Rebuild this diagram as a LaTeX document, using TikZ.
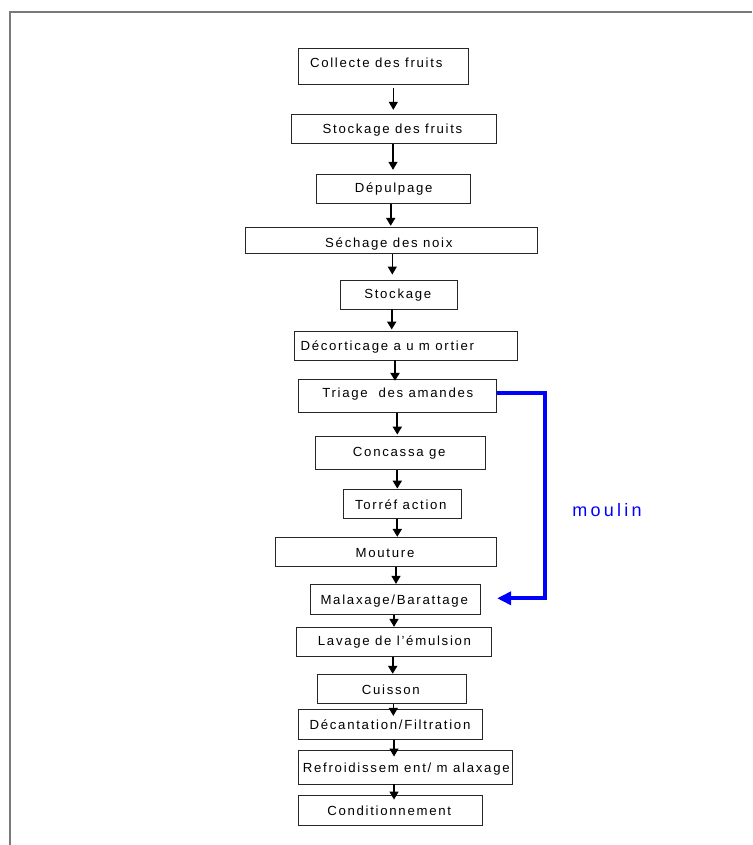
\documentclass[tikz,border=0pt]{standalone}
\usepackage{fontspec}
\setmainfont{Liberation Sans}
\newfontfamily\boxfont[LetterSpace=13]{Liberation Sans}
\newfontfamily\moulinfont[LetterSpace=18]{Liberation Sans}
\usetikzlibrary{arrows.meta}
\definecolor{framegray}{HTML}{7A7A7A}
\definecolor{pureblue}{HTML}{0000FF}
\begin{document}
\begin{tikzpicture}[x=1pt,y=-1pt,
  stepbox/.style={draw=black!85, line width=0.9pt, inner sep=0pt},
  lbl/.style={font=\boxfont\fontsize{13.2}{15}\selectfont, inner sep=0pt, anchor=base},
  thinarr/.style={line width=1.2pt, -{Triangle[width=9pt,length=8pt]}},
  thickarr/.style={line width=2.3pt, -{Triangle[width=9pt,length=8pt]}},
  bluearr/.style={draw=pureblue, line width=4pt, line join=miter, -{Triangle[width=13pt,length=14pt]}}
]
\useasboundingbox (0,0) rectangle (752,845);
\fill[white] (0,0) rectangle (752,845);
% frame (cut off at right and bottom)
\draw[framegray, line width=1.6pt] (9.8,845) -- (9.8,12) -- (752,12);

% boxes
\node[stepbox, minimum width=170pt,   minimum height=35.7pt] (b1)  at (383,66.2)  {};
\node[stepbox, minimum width=205pt,   minimum height=29pt]   (b2)  at (394.2,128.8) {};
\node[stepbox, minimum width=154.7pt, minimum height=29pt]   (b3)  at (393.3,188.8) {};
\node[stepbox, minimum width=292.3pt, minimum height=26pt]   (b4)  at (391.2,240.3) {};
\node[stepbox, minimum width=116.6pt, minimum height=29pt]   (b5)  at (399,294.5) {};
\node[stepbox, minimum width=223.3pt, minimum height=29pt]   (b6)  at (405.7,345.5) {};
\node[stepbox, minimum width=198.4pt, minimum height=33.4pt] (b7)  at (397.5,396) {};
\node[stepbox, minimum width=170pt,   minimum height=33.3pt] (b8)  at (400,452.7) {};
\node[stepbox, minimum width=118.4pt, minimum height=29.3pt] (b9)  at (402.5,503.7) {};
\node[stepbox, minimum width=221.7pt, minimum height=29.4pt] (b10) at (385.8,552) {};
\node[stepbox, minimum width=170.7pt, minimum height=29.7pt] (b11) at (395.3,599.2) {};
\node[stepbox, minimum width=195.7pt, minimum height=29.4pt] (b12) at (393.8,642) {};
\node[stepbox, minimum width=149.4pt, minimum height=29pt]   (b13) at (392,688.8) {};
\node[stepbox, minimum width=184pt,   minimum height=29.7pt] (b14) at (390.3,724.2) {};
\node[stepbox, minimum width=214.4pt, minimum height=34pt]   (b15) at (405.5,767) {};
\node[stepbox, minimum width=184pt,   minimum height=30pt]   (b16) at (390.3,810) {};

% labels
\node[lbl] (t1)  at (376.2,67.3)  {Collecte des fruits};
\node[lbl] (t2)  at (392.5,133.3) {Stockage des fruits};
\node[lbl] (t3)  at (393.7,192.3) {Dépulpage};
\node[lbl] (t4)  at (388.8,247.3) {Séchage des noix};
\node[lbl] (t5)  at (397.8,298.3) {Stockage};
\node[lbl] (t6)  at (387.3,350.7) {Décorticage a u m ortier};
\node[lbl] (t7)  at (397.8,397.7) {Triage\ \ des amandes};
\node[lbl] (t8)  at (399.2,456.7) {Concassa ge};
\node[lbl] (t9)  at (400.8,509.3) {Torréf action};
\node[lbl] (t10) at (385,557.3)   {Mouture};
\node[lbl] (t11) at (394.2,604.3) {Malaxage/Barattage};
\node[lbl] (t12) at (394.5,645.7) {Lavage de l’émulsion};
\node[lbl] (t13) at (390.8,694)   {Cuisson};
\node[lbl] (t14) at (390,729.3)   {Décantation/Filtration};
\node[lbl] (t15) at (406.3,772.7) {Refroidissem ent/ m alaxage};
\node[lbl] (t16) at (389.2,815.7) {Conditionnement};

% vertical flow arrows
\draw[thinarr, shorten <=4pt, shorten >=4pt] (b1.south -| 393.3,0) -- (b2.north -| 393.3,0);
\draw[thinarr, shorten >=4pt]  (b2.south -| 393,0)   -- (b3.north -| 393,0);
\draw[thickarr, shorten >=1pt] (b3.south -| 390.7,0) -- (b4.north -| 390.7,0);
\draw[thinarr, shorten >=5pt]  (b4.south -| 392.3,0) -- (b5.north -| 392.3,0);
\draw[thickarr, shorten >=1pt] (b5.south -| 391.7,0) -- (b6.north -| 391.7,0);
\draw[thickarr, shorten >=-2pt] (b6.south -| 395,0)  -- (b7.north -| 395,0);
\draw[thickarr, shorten >=1pt] (b7.south -| 397.3,0) -- (b8.north -| 397.3,0);
\draw[thickarr] (b8.south -| 397.3,0) -- (b9.north -| 397.3,0);
\draw[thickarr] (b9.south -| 397.3,0) -- (b10.north -| 397.3,0);
\draw[thinarr]  (b10.south -| 396,0)  -- (b11.north -| 396,0);
\draw[thinarr]  (b11.south -| 394,0)  -- (b12.north -| 394,0);
\draw[thickarr] (b12.south -| 392.7,0) -- (b13.north -| 392.7,0);
\draw[thinarr, shorten >=-7pt] (b13.south -| 393.3,0) -- (b14.north -| 393.3,0);
\draw[thinarr, shorten >=-7pt] (b14.south -| 394,0)   -- (b15.north -| 394,0);
\draw[thinarr, shorten >=-5pt] (b15.south -| 394,0)   -- (b16.north -| 394,0);

% blue bypass
\draw[bluearr, shorten >=16pt] (b7.east |- 0,393.3) -- (545,393.3) -- (545,598.3) -- (b11.east |- 0,598.3);
\node[font=\moulinfont\fontsize{18}{20}\selectfont, text=pureblue, inner sep=0pt, anchor=base] (moulin) at (607,516) {moulin};
\end{tikzpicture}
\end{document}
